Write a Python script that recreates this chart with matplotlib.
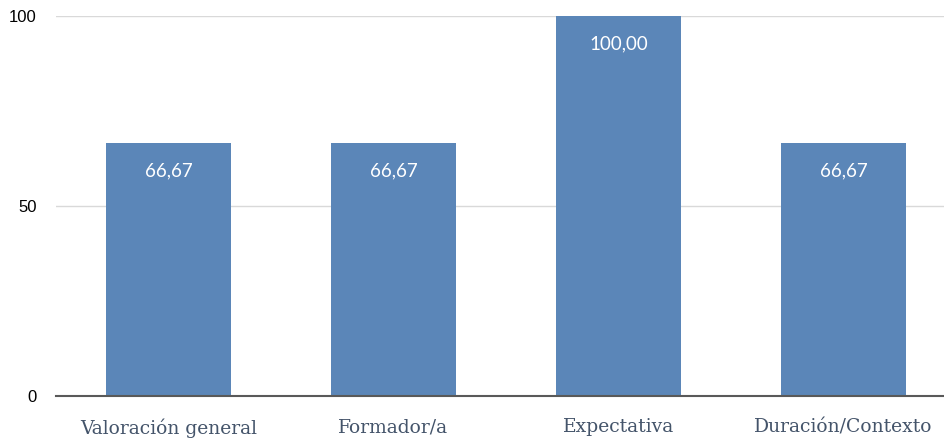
import matplotlib
matplotlib.use("Agg")
import matplotlib.pyplot as plt

categories = ["Valoración general", "Formador/a", "Expectativa", "Duración/Contexto"]
values = [66.67, 66.67, 100.00, 66.67]
yticks = [0, 50, 100]

fig = plt.figure(figsize=(9.45, 4.45), dpi=100)
ax = fig.add_axes([56/945, 49/445, 900/945, 380/445])
x = list(range(len(categories)))
bars = ax.bar(x, values, width=0.556, color="#5b86b8", zorder=3)
ax.set_xlim(-0.5, len(categories) - 0.5)
ax.set_ylim(0, 100)
ax.set_yticks(yticks)
ax.set_yticklabels([str(t) for t in yticks], fontfamily="Liberation Sans", fontsize=12, color="#000000")
ax.set_xticks(x)
ax.set_xticklabels(categories, fontfamily="DejaVu Serif", fontsize=13.5, color="#44546a")
ax.tick_params(axis="both", length=0)
ax.tick_params(axis="x", pad=16)
ax.tick_params(axis="y", pad=14)
ax.grid(axis="y", color="#d9d9d9", linewidth=1, zorder=0)
for s in ["top", "right", "left"]:
    ax.spines[s].set_visible(False)
ax.spines["bottom"].set_color("#595959")
ax.spines["bottom"].set_linewidth(1.5)
ax.spines["bottom"].set_zorder(4)

for xi, v in zip(x, values):
    ax.annotate(f"{v:.2f}".replace(".", ","), xy=(xi, v), xytext=(0, -28),
                textcoords="offset pixels",
                ha="center", va="center", color="white", fontsize=13.5,
                fontfamily="Lato", fontweight="normal", zorder=5)

fig.savefig("out.png", dpi=100)
